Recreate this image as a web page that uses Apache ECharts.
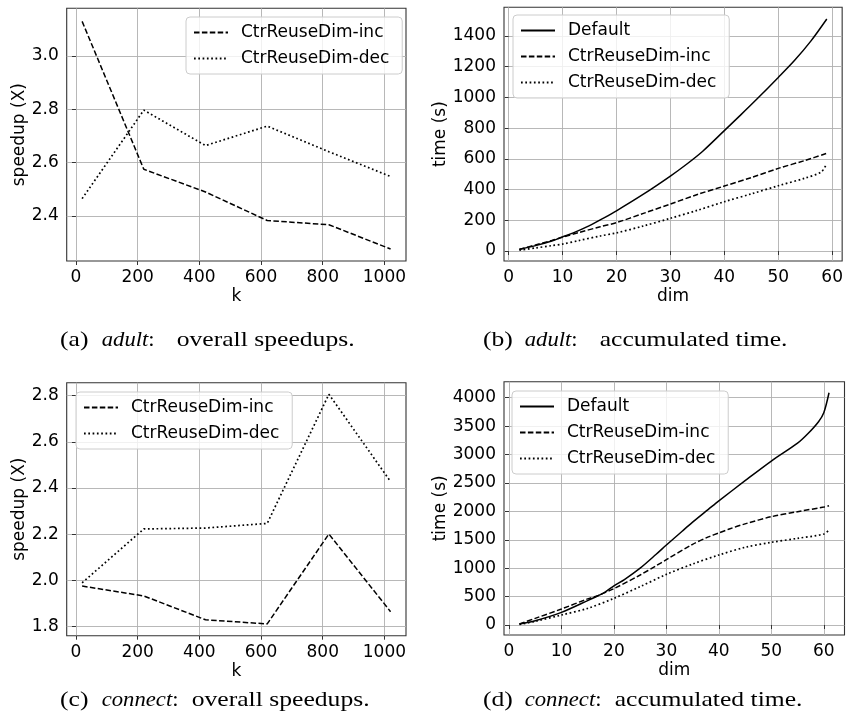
<!DOCTYPE html>
<html>
<head>
<meta charset="utf-8">
<script src="https://cdn.jsdelivr.net/npm/echarts@6/dist/echarts.min.js"></script>
<style>
html,body{margin:0;padding:0;background:#fff;}
#chart{width:846px;height:721px;}
</style>
</head>
<body>
<div id="chart"></div>
<script>
// ---------- data ----------
const kValues = [20, 220, 420, 620, 820, 1020];
const kTicks = [0, 200, 400, 600, 800, 1000];
const dimTicksAdult = [0, 10, 20, 30, 40, 50, 60];
const dimTicksConnect = [0, 10, 20, 30, 40, 50, 60];

const adultIncSpeedup = [3.13, 2.575, 2.49, 2.383, 2.367, 2.276];
const adultDecSpeedup = [2.465, 2.797, 2.664, 2.737, 2.641, 2.548];
const adultSpeedupTicks = [2.4, 2.6, 2.8, 3.0];

const connectIncSpeedup = [1.976, 1.933, 1.830, 1.812, 2.201, 1.865];
const connectDecSpeedup = [1.990, 2.223, 2.227, 2.247, 2.806, 2.428];
const connectSpeedupTicks = [1.8, 2.0, 2.2, 2.4, 2.6, 2.8];

const adultDefaultDims = [2, 5, 8, 10, 12, 15, 17, 20, 25, 30, 33, 36, 40, 43, 46, 50, 53, 56, 59];
const adultDefaultTime = [11, 35, 65, 92, 118, 165, 203, 262, 370, 488, 565, 650, 784, 885, 988, 1130, 1240, 1365, 1511];
const adultIncDims = [2, 5, 8, 10, 13, 17, 20, 25, 30, 35, 40, 45, 50, 55, 59];
const adultIncTime = [10, 40, 68, 90, 120, 158, 185, 245, 306, 368, 423, 478, 538, 590, 636];
const adultDecDims = [2, 5, 8, 10, 13, 17, 20, 25, 30, 35, 40, 45, 50, 55, 58, 59];
const adultDecTime = [5, 20, 35, 45, 68, 98, 118, 163, 213, 265, 321, 372, 425, 475, 516, 571];
const adultTimeTicks = [0, 200, 400, 600, 800, 1000, 1200, 1400];

const connectDefaultDims = [2, 5, 10, 15, 18, 20, 22, 25, 28, 30, 33, 35, 38, 40, 45, 50, 55, 57, 59, 60, 61];
const connectDefaultTime = [18, 76, 223, 430, 560, 690, 800, 1000, 1240, 1408, 1650, 1810, 2035, 2185, 2540, 2886, 3200, 3370, 3578, 3736, 4088];
const connectIncDims = [2, 5, 10, 15, 17, 20, 25, 28, 30, 35, 38, 40, 42, 45, 50, 55, 60, 61];
const connectIncTime = [18, 117, 282, 460, 520, 640, 880, 1040, 1150, 1420, 1550, 1620, 1690, 1780, 1906, 1994, 2076, 2100];
const connectDecDims = [2, 5, 10, 15, 20, 25, 30, 35, 40, 45, 50, 55, 60, 61];
const connectDecTime = [10, 64, 176, 293, 469, 675, 891, 1073, 1232, 1367, 1455, 1525, 1601, 1672];
const connectTimeTicks = [0, 500, 1000, 1500, 2000, 2500, 3000, 3500, 4000];

// ---------- helpers ----------
const zip = (xs, ys) => xs.map((x, i) => [x, ys[i]]);
const FONT = 'DejaVu Sans';
const FS = 17;
const SOLID = {type: 'solid', width: 1.5, color: '#000'};
const DASH = {type: [5.5, 2.4], width: 1.5, color: '#000'};
const DOT = {type: [1.7, 2.6], width: 1.7, color: '#000'};

const grids = [
  {left: 66.7, top: 8.3, width: 339.3, height: 252.7},
  {left: 504, top: 7.3, width: 340.5, height: 253.7},
  {left: 66.7, top: 382.7, width: 339.3, height: 253},
  {left: 504, top: 381.7, width: 340.5, height: 253.3}
].map(g => Object.assign(g, {show: true, borderColor: '#333', borderWidth: 1.1, backgroundColor: 'transparent', containLabel: false}));

function xAxis(idx, min, max, ticks, name) {
  return {
    type: 'value', gridIndex: idx, min: min, max: max,
    name: name, nameLocation: 'middle', nameGap: 27,
    nameTextStyle: {fontFamily: FONT, fontSize: FS, color: '#000'},
    axisLine: {show: false},
    axisTick: {show: true, inside: false, length: 4, customValues: ticks, lineStyle: {color: '#333', width: 1}},
    axisLabel: {show: true, margin: 8, customValues: ticks, fontFamily: FONT, fontSize: FS, color: '#000',
      formatter: v => String(Math.round(v))},
    splitLine: {show: true, lineStyle: {color: '#b0b0b0', width: 0.9}}
  };
}
function yAxis(idx, min, max, ticks, name, gap, dec) {
  return {
    type: 'value', gridIndex: idx, min: min, max: max,
    name: name, nameLocation: 'middle', nameGap: gap, nameRotate: 90,
    nameTextStyle: {fontFamily: FONT, fontSize: FS, color: '#000'},
    axisLine: {show: false},
    axisTick: {show: true, inside: false, length: 4, customValues: ticks, lineStyle: {color: '#333', width: 1}},
    axisLabel: {show: true, margin: 8, customValues: ticks, fontFamily: FONT, fontSize: FS, color: '#000',
      formatter: v => dec ? v.toFixed(dec) : String(Math.round(v))},
    splitLine: {show: true, lineStyle: {color: '#b0b0b0', width: 0.9}}
  };
}
function legend(left, top, names) {
  return {
    left: left, top: top, orient: 'vertical', selectedMode: false,
    data: names, itemWidth: 34, itemHeight: 16, itemGap: 9,
    padding: [7, 13, 7, 7],
    itemStyle: {opacity: 0},
    backgroundColor: 'rgba(255,255,255,0.8)', borderColor: '#cccccc', borderWidth: 1, borderRadius: 4,
    textStyle: {fontFamily: FONT, fontSize: FS, color: '#000', padding: [0, 0, 0, 8]}
  };
}
function line(name, idx, data, style, smooth) {
  return {type: 'line', name: name, xAxisIndex: idx, yAxisIndex: idx, data: data,
    showSymbol: false, symbol: 'none', smooth: smooth ? 0.3 : false, lineStyle: style,
    itemStyle: {color: '#000'}, animation: false, silent: true};
}

const option = {
  animation: false,
  grid: grids,
  xAxis: [
    xAxis(0, -30, 1070, kTicks, 'k'),
    xAxis(1, -0.85, 61.85, dimTicksAdult, 'dim'),
    xAxis(2, -30, 1070, kTicks, 'k'),
    xAxis(3, -0.95, 63.95, dimTicksConnect, 'dim')
  ],
  yAxis: [
    yAxis(0, 2.231, 3.179, adultSpeedupTicks, 'speedup (X)', 39, 1),
    yAxis(1, -65, 1587, adultTimeTicks, 'time (s)', 55, 0),
    yAxis(2, 1.761, 2.856, connectSpeedupTicks, 'speedup (X)', 39, 1),
    yAxis(3, -176, 4282, connectTimeTicks, 'time (s)', 55, 0)
  ],
  legend: [
    legend(186, 17, ['CtrReuseDim-inc', 'CtrReuseDim-dec']),
    legend(513, 15, ['Default', 'CtrReuseDim-inc', 'CtrReuseDim-dec']),
    legend(76, 392, ['CtrReuseDim-inc', 'CtrReuseDim-dec']),
    legend(512, 391, ['Default', 'CtrReuseDim-inc', 'CtrReuseDim-dec'])
  ],
  series: [
    line('CtrReuseDim-inc', 0, zip(kValues, adultIncSpeedup), DASH),
    line('CtrReuseDim-dec', 0, zip(kValues, adultDecSpeedup), DOT),
    line('Default', 1, zip(adultDefaultDims, adultDefaultTime), SOLID, true),
    line('CtrReuseDim-inc', 1, zip(adultIncDims, adultIncTime), DASH, true),
    line('CtrReuseDim-dec', 1, zip(adultDecDims, adultDecTime), DOT, true),
    line('CtrReuseDim-inc', 2, zip(kValues, connectIncSpeedup), DASH),
    line('CtrReuseDim-dec', 2, zip(kValues, connectDecSpeedup), DOT),
    line('Default', 3, zip(connectDefaultDims, connectDefaultTime), SOLID, true),
    line('CtrReuseDim-inc', 3, zip(connectIncDims, connectIncTime), DASH, true),
    line('CtrReuseDim-dec', 3, zip(connectDecDims, connectDecTime), DOT, true)
  ],
  graphic: []
};

// captions
const CAP_FONT = '21px "Liberation Serif"';
const CAP_IT = 'italic 21px "Liberation Serif"';
function capText(x, y, text) {
  return {type: 'text', x: x, y: y, scaleX: 1.22, silent: true,
    style: {text: text, font: CAP_FONT, fill: '#000', textAlign: 'left', textVerticalAlign: 'middle'}};
}
const captions = [
  [60, 340, '(a)', 101.7, 'adult', 'overall speedups.', 176.7],
  [483, 340, '(b)', 524.7, 'adult', 'accumulated time.', 599.7],
  [60, 700, '(c)', 101.7, 'connect', 'overall speedups.', 191.7],
  [483, 700, '(d)', 524.7, 'connect', 'accumulated time.', 614.7]
];
captions.forEach(c => {
  option.graphic.push(capText(c[0], c[1], c[2]));
  option.graphic.push({type: 'text', x: c[3], y: c[1], scaleX: 1.08, silent: true,
    style: {text: '{i|' + c[4] + '}:', font: CAP_FONT, fill: '#000', textAlign: 'left', textVerticalAlign: 'middle',
      rich: {i: {font: CAP_IT, fill: '#000'}}}});
  option.graphic.push(capText(c[6], c[1], c[5]));
});

const chart = echarts.init(document.getElementById('chart'), null, {renderer: 'canvas'});
chart.setOption(option);
</script>
</body>
</html>
